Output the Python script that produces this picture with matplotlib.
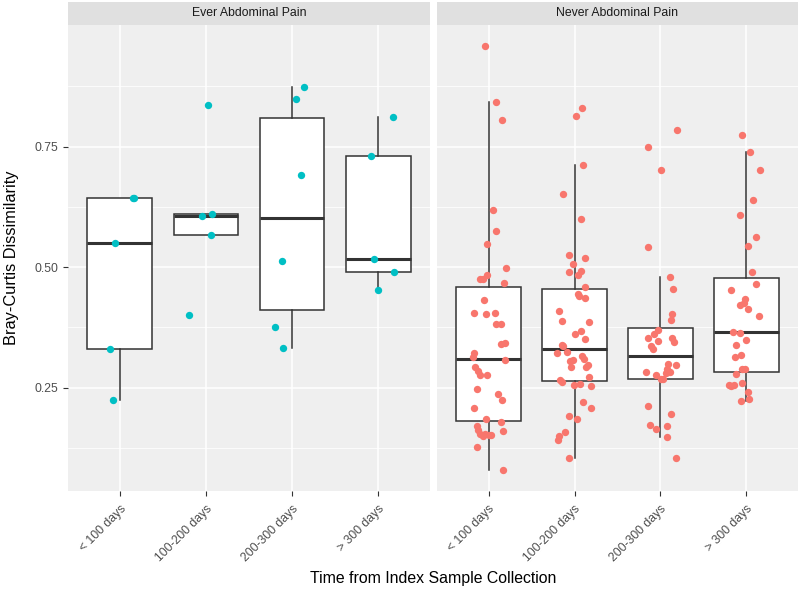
import numpy as np
import matplotlib.pyplot as plt

plt.rcParams['font.family'] = ['Liberation Sans', 'DejaVu Sans']

categories = ["< 100 days", "100-200 days", "200-300 days", "> 300 days"]
panel_titles = ["Ever Abdominal Pain", "Never Abdominal Pain"]
y_ticks = [0.25, 0.50, 0.75]
y_tick_labels = ["0.25", "0.50", "0.75"]

# Bray-Curtis values, one list per time bin
ever_vals = [
    [0.225, 0.330, 0.551, 0.643, 0.643],
    [0.400, 0.567, 0.607, 0.611, 0.836],
    [0.332, 0.377, 0.513, 0.691, 0.849, 0.874],
    [0.453, 0.489, 0.516, 0.731, 0.812],
]
# horizontal jitter (fraction of category spacing) as seen in the picture
ever_jit = [
    [-0.08, -0.11, -0.05, 0.15, 0.17],
    [-0.20, 0.06, -0.05, 0.07, 0.03],
    [-0.10, -0.20, -0.12, 0.10, 0.04, 0.14],
    [0.00, 0.18, -0.05, -0.09, 0.17],
]

never_vals = [
    [0.958, 0.843, 0.805, 0.618, 0.574, 0.547, 0.498, 0.484, 0.475, 0.476,
     0.467, 0.432, 0.404, 0.403, 0.406, 0.383, 0.382, 0.340, 0.342, 0.322,
     0.313, 0.307, 0.293, 0.285, 0.277, 0.277, 0.248, 0.238, 0.225, 0.209,
     0.185, 0.180, 0.170, 0.163, 0.161, 0.155, 0.152, 0.153, 0.151, 0.155,
     0.128, 0.080],
    [0.830, 0.813, 0.711, 0.652, 0.599, 0.526, 0.520, 0.506, 0.489, 0.484,
     0.493, 0.459, 0.444, 0.441, 0.436, 0.410, 0.388, 0.386, 0.361, 0.367,
     0.351, 0.339, 0.337, 0.322, 0.325, 0.308, 0.305, 0.315, 0.310, 0.298,
     0.293, 0.294, 0.272, 0.266, 0.262, 0.256, 0.258, 0.254, 0.220, 0.208,
     0.192, 0.185, 0.159, 0.150, 0.142, 0.104],
    [0.785, 0.750, 0.701, 0.541, 0.480, 0.455, 0.403, 0.391, 0.369, 0.362,
     0.353, 0.354, 0.345, 0.347, 0.337, 0.331, 0.299, 0.298, 0.289, 0.282,
     0.281, 0.282, 0.277, 0.269, 0.268, 0.213, 0.195, 0.173, 0.165, 0.170,
     0.148, 0.105],
    [0.775, 0.739, 0.702, 0.640, 0.609, 0.562, 0.543, 0.491, 0.465, 0.453,
     0.433, 0.426, 0.421, 0.414, 0.399, 0.365, 0.363, 0.350, 0.338, 0.314,
     0.317, 0.289, 0.289, 0.278, 0.256, 0.256, 0.254, 0.260, 0.241, 0.227,
     0.222],
]
never_jit = [
    [-0.04, 0.085, 0.16, 0.05, 0.09, -0.02, 0.20, -0.02, -0.07, -0.10,
     0.18, -0.05, -0.17, -0.03, 0.07, 0.09, 0.15, 0.15, 0.19, -0.17,
     -0.18, 0.19, -0.16, -0.12, -0.10, -0.02, -0.13, 0.11, 0.16, -0.17,
     -0.03, 0.14, -0.14, -0.12, 0.17, -0.04, 0.00, 0.03, -0.06, -0.10,
     -0.14, 0.17],
    [0.09, 0.02, 0.10, -0.13, 0.07, -0.06, 0.12, -0.02, -0.07, 0.04,
     0.07, 0.12, 0.04, 0.05, 0.12, -0.18, -0.15, 0.17, 0.01, 0.08,
     0.12, -0.15, -0.13, -0.20, -0.09, -0.02, -0.05, 0.09, 0.11, 0.16,
     0.13, -0.04, 0.17, -0.17, -0.15, -0.01, 0.06, 0.19, 0.10, 0.19,
     -0.07, 0.03, -0.11, -0.18, -0.19, -0.07],
    [0.19, -0.14, 0.01, -0.14, 0.11, 0.14, 0.13, 0.12, -0.03, -0.07,
     -0.15, 0.13, 0.16, -0.03, -0.11, -0.09, 0.09, 0.18, 0.08, 0.11,
     0.06, -0.17, -0.05, 0.01, 0.03, -0.15, 0.12, -0.12, -0.05, 0.08,
     0.08, 0.18],
    [-0.05, 0.04, 0.16, 0.08, -0.07, 0.11, 0.02, 0.07, 0.11, -0.18,
     -0.02, -0.03, -0.07, 0.02, 0.15, -0.16, -0.07, 0.00, -0.12, -0.13,
     -0.06, -0.05, -0.02, -0.12, -0.20, -0.14, -0.18, -0.05, 0.02, 0.03,
     -0.06],
]

point_colors = ["#00BFC4", "#F8766D"]

W, H = 800, 597
fig = plt.figure(figsize=(W / 100, H / 100), dpi=100)
panel_x = [(68, 430), (437, 798)]
top, bottom = 25, 491

for i, (vals, jit) in enumerate([(ever_vals, ever_jit), (never_vals, never_jit)]):
    x0, x1 = panel_x[i]
    ax = fig.add_axes([x0 / W, 1 - bottom / H, (x1 - x0) / W, (bottom - top) / H])
    ax.set_facecolor('#EFEFEF')
    for s in ax.spines.values():
        s.set_visible(False)

    ax.boxplot(vals, positions=range(len(categories)), widths=0.75, whis=1.5,
               showfliers=False, showcaps=False, patch_artist=True,
               boxprops=dict(facecolor='white', edgecolor='#333333', linewidth=1.1),
               whiskerprops=dict(color='#333333', linewidth=1.1),
               medianprops=dict(color='#333333', linewidth=2.2))

    for k in range(len(categories)):
        ax.scatter(k + np.array(jit[k]), vals[k], s=28, color=point_colors[i],
                   linewidths=0, zorder=3)

    ax.set_xlim(-0.6, 3.6)
    ax.set_ylim(0.036, 1.002)
    ax.set_axisbelow(True)
    ax.set_xticks(range(len(categories)))
    ax.set_xticklabels(categories, rotation=45, ha='right', va='top',
                       rotation_mode='anchor', fontsize=8.8, color='#4D4D4D')
    ax.set_yticks(y_ticks)
    ax.set_yticks([0.125, 0.375, 0.625, 0.875], minor=True)
    ax.grid(which='major', color='white', linewidth=1.1)
    ax.grid(which='minor', axis='y', color='white', linewidth=0.55)
    ax.tick_params(which='minor', length=0)
    ax.tick_params(which='major', length=3.8, width=0.8, color='#333333', pad=3)
    ax.tick_params(axis='x', which='major', pad=5)
    if i == 0:
        ax.set_yticklabels(y_tick_labels, fontsize=8.8, color='#4D4D4D')
    else:
        ax.tick_params(axis='y', which='major', length=0, labelleft=False)

    strip = fig.add_axes([x0 / W, 1 - top / H, (x1 - x0) / W, 23 / H])
    strip.set_facecolor('#E0E0E0')
    strip.set_xticks([])
    strip.set_yticks([])
    for s in strip.spines.values():
        s.set_visible(False)
    strip.text(0.5, 0.5, panel_titles[i], ha='center', va='center',
               fontsize=8.8, color='#1A1A1A', transform=strip.transAxes)

fig.text(433 / W, 1 - 579 / H, "Time from Index Sample Collection",
         ha='center', va='center', fontsize=11.4)
fig.text(12 / W, 1 - 258 / H, "Bray-Curtis Dissimilarity", rotation=90,
         ha='center', va='center', fontsize=11.8)

fig.savefig("out.png", dpi=100)
